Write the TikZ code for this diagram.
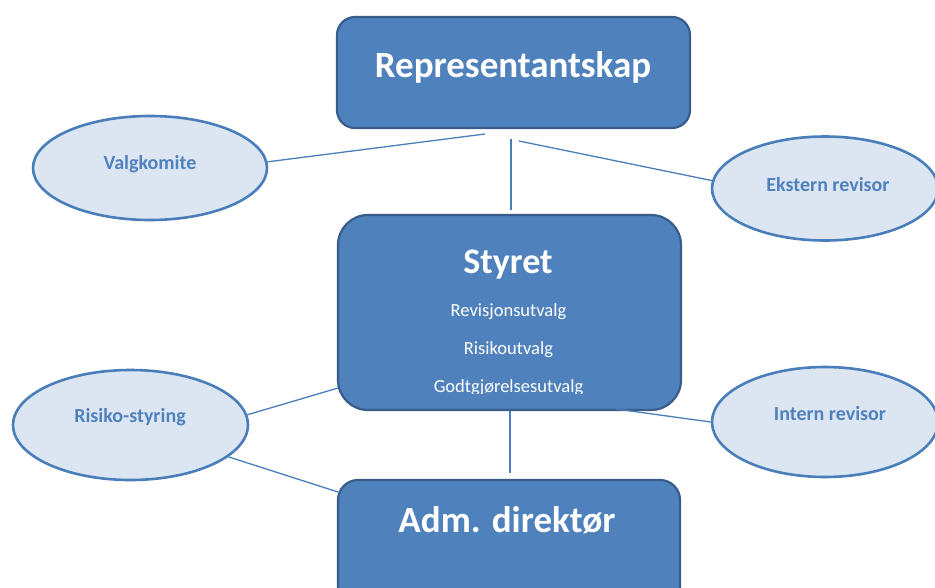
\documentclass[tikz,border=0pt]{standalone}
\usepackage{fontspec}
\setmainfont{Carlito}
\usetikzlibrary{shapes.geometric}
\definecolor{boxfill}{HTML}{4F81BD}
\definecolor{boxline}{HTML}{385D8A}
\definecolor{ellfill}{HTML}{DCE6F2}
\definecolor{ellline}{HTML}{4A7EBB}
\definecolor{conn}{HTML}{4A7EBB}
\definecolor{elltext}{HTML}{4F81BD}
\begin{document}
\begin{tikzpicture}[x=1pt,y=-1pt,
  box/.style={draw=boxline, line width=2.2pt, fill=boxfill, rounded corners=#1, inner sep=0pt},
  oval/.style={ellipse, draw=ellline, line width=2.6pt, fill=ellfill, inner sep=0pt},
  title/.style={anchor=base, text=white, font=\bfseries\fontsize{37}{40}\selectfont, inner sep=0pt},
  sub/.style={anchor=base, text=white, font=\fontsize{18.5}{20}\selectfont, inner sep=0pt},
  ovaltext/.style={anchor=base, text=elltext, font=\bfseries\fontsize{20}{22}\selectfont, inner sep=0pt},
  conn/.style={draw=conn, line width=1.3pt}]
\useasboundingbox (0,0) rectangle (935,587);
\clip (0,0) rectangle (935,587);
\fill[white] (0,0) rectangle (935,587);

% boxes
\node[box=18pt, minimum width=353pt, minimum height=111pt] (rep) at (513.5,72.5) {};
\node[title] (reptext) at (513,77) {Representantskap};

\node[box=30pt, minimum width=343pt, minimum height=195pt] (sty) at (509.5,312.5) {};
\node[title, font=\bfseries\fontsize{36}{40}\selectfont] (stytext) at (508,273) {Styret};
\node[sub] (sub1) at (508.5,316) {Revisjonsutvalg};
\node[sub] (sub2) at (508.5,354) {Risikoutvalg};
\begin{scope}
  \clip (330,360) rectangle (690,393);
  \node[sub] (sub3) at (508.5,392) {Godtgjørelsesutvalg};
\end{scope}

\node[box=20pt, minimum width=342pt, minimum height=130pt] (adm) at (509,545) {};
\node[title] (admtext) at (507,532) {Adm. direktør};

% ellipses
\node[oval, minimum width=234pt, minimum height=104pt] (vk) at (150,168) {};
\node[ovaltext] (vktext) at (150,169) {Valgkomite};

\node[oval, minimum width=226pt, minimum height=104pt] (ek) at (825,188.5) {};
\node[ovaltext] (ektext) at (828,191) {Ekstern revisor};

\node[oval, minimum width=235pt, minimum height=110pt] (ri) at (130.5,425) {};
\node[ovaltext] (ritext) at (130,422) {Risiko-styring};

\node[oval, minimum width=226pt, minimum height=110pt] (ir) at (825,422) {};
\node[ovaltext] (irtext) at (830,420) {Intern revisor};

% connector ends
\coordinate (repL) at (485,134);
\coordinate (repM) at (511,139);
\coordinate (repR) at (519,141);
\coordinate (styT) at (511,210);
\coordinate (styL) at (338,388);
\coordinate (styB) at (510,411);
\coordinate (styBR) at (616,409);
\coordinate (admT) at (510,473);
\coordinate (admL) at (338,492);

\draw[conn] (vk.3) -- (repL);
\draw[conn] (repM) -- (styT);
\draw[conn] (repR) -- (ek.176);
\draw[conn] (ri.5) -- (styL);
\draw[conn] (ri.-18) -- (admL);
\draw[conn] (styB) -- (admT);
\draw[conn] (styBR) -- (ir.west);
\end{tikzpicture}
\end{document}
